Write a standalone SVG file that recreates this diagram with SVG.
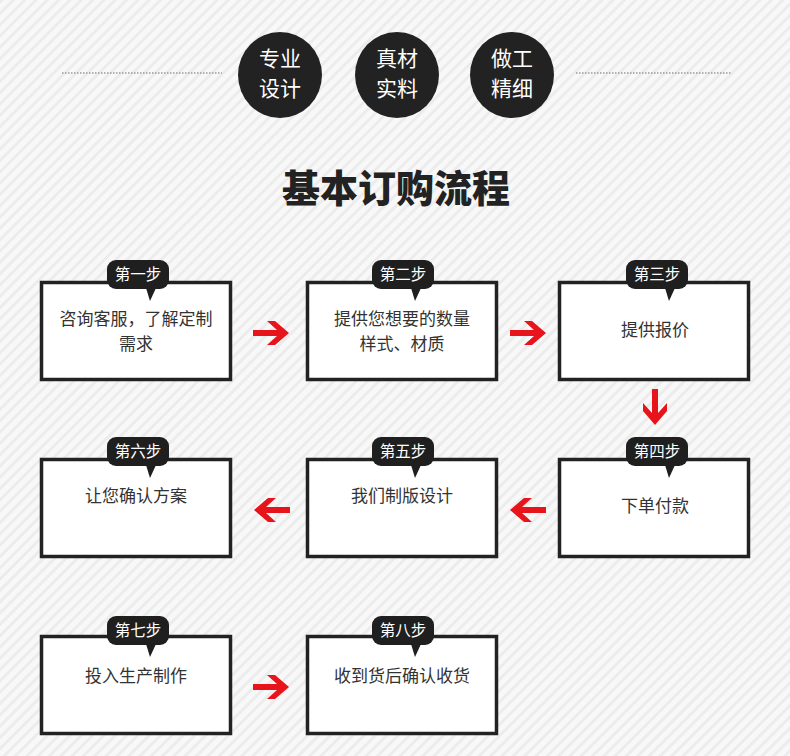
<svg xmlns="http://www.w3.org/2000/svg" width="790" height="756" viewBox="0 0 790 756">
<defs>
<pattern id="bg" width="8" height="8" patternUnits="userSpaceOnUse" patternTransform="rotate(45)">
<rect width="8" height="8" fill="#f8f8f8"/>
<rect width="3" height="8" fill="#ececec"/>
</pattern>
<g id="arrowR">
<path d="M-18,-3 H6 L-4,-12 H4 L18,0 L4,12 H-4 L6,3 H-18 Z" fill="#e8141b"/>
</g>
</defs>
<style>
.box{fill:#fff;stroke:#222;stroke-width:3.5}
.tag{fill:#1f1f1f}
.tagt{font-family:"Noto Sans CJK SC",sans-serif;font-size:15.5px;fill:#fff;text-anchor:middle}
.bt{font-family:"Noto Sans CJK SC",sans-serif;font-size:17px;fill:#333;text-anchor:middle}
.ct{font-family:"Noto Sans CJK SC",sans-serif;font-size:21px;fill:#fff;text-anchor:middle}
.dot{stroke:#999;stroke-width:1.5;stroke-dasharray:1.5 1.5}
</style>
<rect width="790" height="756" fill="url(#bg)"/>
<g id="header">
<line class="dot" x1="62" y1="73" x2="222" y2="73"/>
<line class="dot" x1="576" y1="73" x2="732" y2="73"/>
<ellipse cx="280" cy="75" rx="42" ry="43" fill="#222"/>
<ellipse cx="397" cy="75" rx="42" ry="43" fill="#222"/>
<ellipse cx="512" cy="75" rx="42" ry="43" fill="#222"/>
<text class="ct" x="280" y="66">专业</text>
<text class="ct" x="280" y="96">设计</text>
<text class="ct" x="397" y="66">真材</text>
<text class="ct" x="397" y="96">实料</text>
<text class="ct" x="512" y="66">做工</text>
<text class="ct" x="512" y="96">精细</text>
<text x="396" y="202" font-family="Noto Sans CJK SC,sans-serif" font-size="38" font-weight="900" fill="#222" text-anchor="middle">基本订购流程</text>
</g>
<g id="step1">
<rect class="box" x="41.5" y="282.5" width="189" height="97"/>
<rect class="tag" x="107" y="260" width="62" height="29" rx="9"/>
<path class="tag" d="M146,288 L156,288 L150,301 Z"/>
<text class="tagt" x="138" y="280">第一步</text>
<text class="bt" x="136" y="325">咨询客服，了解定制</text>
<text class="bt" x="136" y="350">需求</text>
</g>
<g id="step2">
<rect class="box" x="307.5" y="282.5" width="189" height="97"/>
<rect class="tag" x="372" y="260" width="62" height="29" rx="9"/>
<path class="tag" d="M411,288 L421,288 L415,301 Z"/>
<text class="tagt" x="403" y="280">第二步</text>
<text class="bt" x="402" y="325">提供您想要的数量</text>
<text class="bt" x="402" y="350">样式、材质</text>
</g>
<g id="step3">
<rect class="box" x="559.5" y="282.5" width="189" height="97"/>
<rect class="tag" x="626" y="260" width="62" height="29" rx="9"/>
<path class="tag" d="M665,288 L675,288 L669,301 Z"/>
<text class="tagt" x="657" y="280">第三步</text>
<text class="bt" x="655" y="336">提供报价</text>
</g>
<g id="step4">
<rect class="box" x="559.5" y="459.5" width="189" height="97"/>
<rect class="tag" x="626" y="437" width="62" height="29" rx="9"/>
<path class="tag" d="M665,465 L675,465 L669,478 Z"/>
<text class="tagt" x="657" y="457">第四步</text>
<text class="bt" x="655" y="512">下单付款</text>
</g>
<g id="step5">
<rect class="box" x="307.5" y="459.5" width="189" height="97"/>
<rect class="tag" x="372" y="437" width="62" height="29" rx="9"/>
<path class="tag" d="M411,465 L421,465 L415,478 Z"/>
<text class="tagt" x="403" y="457">第五步</text>
<text class="bt" x="402" y="502">我们制版设计</text>
</g>
<g id="step6">
<rect class="box" x="41.5" y="459.5" width="189" height="97"/>
<rect class="tag" x="107" y="437" width="62" height="29" rx="9"/>
<path class="tag" d="M146,465 L156,465 L150,478 Z"/>
<text class="tagt" x="138" y="457">第六步</text>
<text class="bt" x="136" y="502">让您确认方案</text>
</g>
<g id="step7">
<rect class="box" x="41.5" y="636.5" width="189" height="97"/>
<rect class="tag" x="107" y="616" width="62" height="29" rx="9"/>
<path class="tag" d="M146,644 L156,644 L150,657 Z"/>
<text class="tagt" x="138" y="636">第七步</text>
<text class="bt" x="136" y="682">投入生产制作</text>
</g>
<g id="step8">
<rect class="box" x="307.5" y="636.5" width="189" height="97"/>
<rect class="tag" x="372" y="616" width="62" height="29" rx="9"/>
<path class="tag" d="M411,644 L421,644 L415,657 Z"/>
<text class="tagt" x="403" y="636">第八步</text>
<text class="bt" x="402" y="682">收到货后确认收货</text>
</g>
<g id="connectors">
<use href="#arrowR" transform="translate(271,333)"/>
<use href="#arrowR" transform="translate(528,333)"/>
<use href="#arrowR" transform="translate(655,407) rotate(90)"/>
<use href="#arrowR" transform="translate(528,510) rotate(180)"/>
<use href="#arrowR" transform="translate(272,510) rotate(180)"/>
<use href="#arrowR" transform="translate(271,687)"/>
</g>
</svg>
